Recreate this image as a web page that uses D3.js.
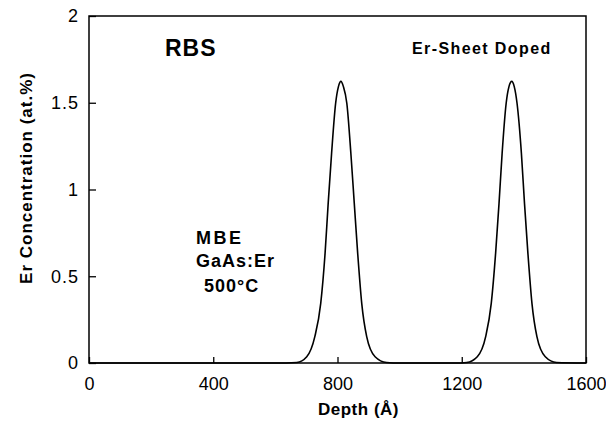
<!DOCTYPE html>
<html>
<head>
    <style type="text/css">
        body { margin: 0; background: #fff; }
        svg { display: block; }
        .tick text {
            font-family: "Liberation Sans Narrow", "Liberation Sans", Arial, sans-serif;
            font-size: 18px;
            fill: #000;
        }
        .note {
            font-family: "Liberation Sans", Arial, sans-serif;
            font-weight: bold;
            fill: #000;
        }
    </style>
    <script src="https://d3js.org/d3.v7.min.js"></script>
</head>
<body>
    <svg id="mySvg" width="606" height="427"></svg>
<script type="text/javascript">
// values (depth in Angstrom, Er in at.%)
const depth = [0, 600, 669, 701, 727, 746, 760, 770, 781, 794, 803, 811, 819, 830, 843, 854, 865, 878, 894, 921, 958,
               1000, 1180, 1216, 1250, 1277, 1295, 1309, 1320, 1330, 1343, 1352, 1361, 1369, 1378, 1392, 1402, 1413, 1426, 1442, 1469, 1505, 1600];
const erConc = [0, 0, 0.003, 0.036, 0.152, 0.344, 0.632, 0.92, 1.209, 1.497, 1.593, 1.623, 1.593, 1.497, 1.209, 0.92, 0.632, 0.344, 0.152, 0.036, 0.003,
                0, 0, 0.003, 0.036, 0.152, 0.344, 0.632, 0.92, 1.209, 1.497, 1.593, 1.623, 1.593, 1.497, 1.209, 0.92, 0.632, 0.344, 0.152, 0.036, 0.003, 0];

const xTicks = [0, 400, 800, 1200, 1600];
const yTicks = [0, 0.5, 1, 1.5, 2];
const yTickLabels = ['0', '0.5', '1', '1.5', '2'];

const margin = {left: 89, top: 16, right: 20, bottom: 64};
const w = 606 - margin.left - margin.right;
const h = 427 - margin.top - margin.bottom;

const svg = d3.select('#mySvg');
const g = svg.append('g').attr('transform', 'translate(' + margin.left + ',' + margin.top + ')');

const x = d3.scaleLinear().domain([0, 1600]).range([0, w]);
const y = d3.scaleLinear().domain([0, 2]).range([h, 0]);

// frame
g.append('rect')
    .attr('width', w).attr('height', h)
    .attr('fill', 'none').attr('stroke', '#000').attr('stroke-width', 1.5);

// axes with inward ticks
const xAxis = g.append('g')
    .attr('transform', 'translate(0,' + h + ')')
    .call(d3.axisBottom(x).tickValues(xTicks).tickSize(-6).tickPadding(14).tickFormat(d3.format('d')));
const yAxis = g.append('g')
    .call(d3.axisLeft(y).tickValues(yTicks).tickSize(-7).tickPadding(11).tickFormat((d, i) => yTickLabels[i]));

[xAxis, yAxis].forEach(a => {
    a.select('.domain').remove();
    a.selectAll('line').attr('stroke', '#000').attr('stroke-width', 1.3);
});
yAxis.selectAll('text').attr('letter-spacing', 1).attr('dx', 1);

// profile
const line = d3.line()
    .x((d, i) => x(depth[i]))
    .y(d => y(d))
    .curve(d3.curveMonotoneX);

g.append('path')
    .datum(erConc)
    .attr('d', line)
    .attr('fill', 'none')
    .attr('stroke', '#000')
    .attr('stroke-width', 1.6);

// titles
svg.append('text').attr('class', 'note')
    .attr('x', margin.left + w / 2 + 21).attr('y', 415)
    .attr('text-anchor', 'middle')
    .style('font-size', '17px').attr('letter-spacing', 0.5)
    .text('Depth (Å)');

svg.append('text').attr('class', 'note')
    .attr('transform', 'translate(32,178) rotate(-90)')
    .attr('text-anchor', 'middle')
    .style('font-size', '17px').attr('letter-spacing', 1)
    .text('Er Concentration (at.%)');

// annotations
svg.append('text').attr('class', 'note')
    .attr('x', 165).attr('y', 56)
    .style('font-size', '23px').attr('letter-spacing', 1)
    .text('RBS');

svg.append('text').attr('class', 'note')
    .attr('x', 412).attr('y', 54)
    .style('font-size', '16px').attr('letter-spacing', 1.4)
    .text('Er-Sheet Doped');

const notes = [['MBE', 196, 244, 2.5], ['GaAs:Er', 196, 267, 1], ['500°C', 204, 292, 1]];
notes.forEach(n => {
    svg.append('text').attr('class', 'note')
        .attr('x', n[1]).attr('y', n[2])
        .style('font-size', '18px').attr('letter-spacing', n[3])
        .text(n[0]);
});
</script>
</body>
</html>
